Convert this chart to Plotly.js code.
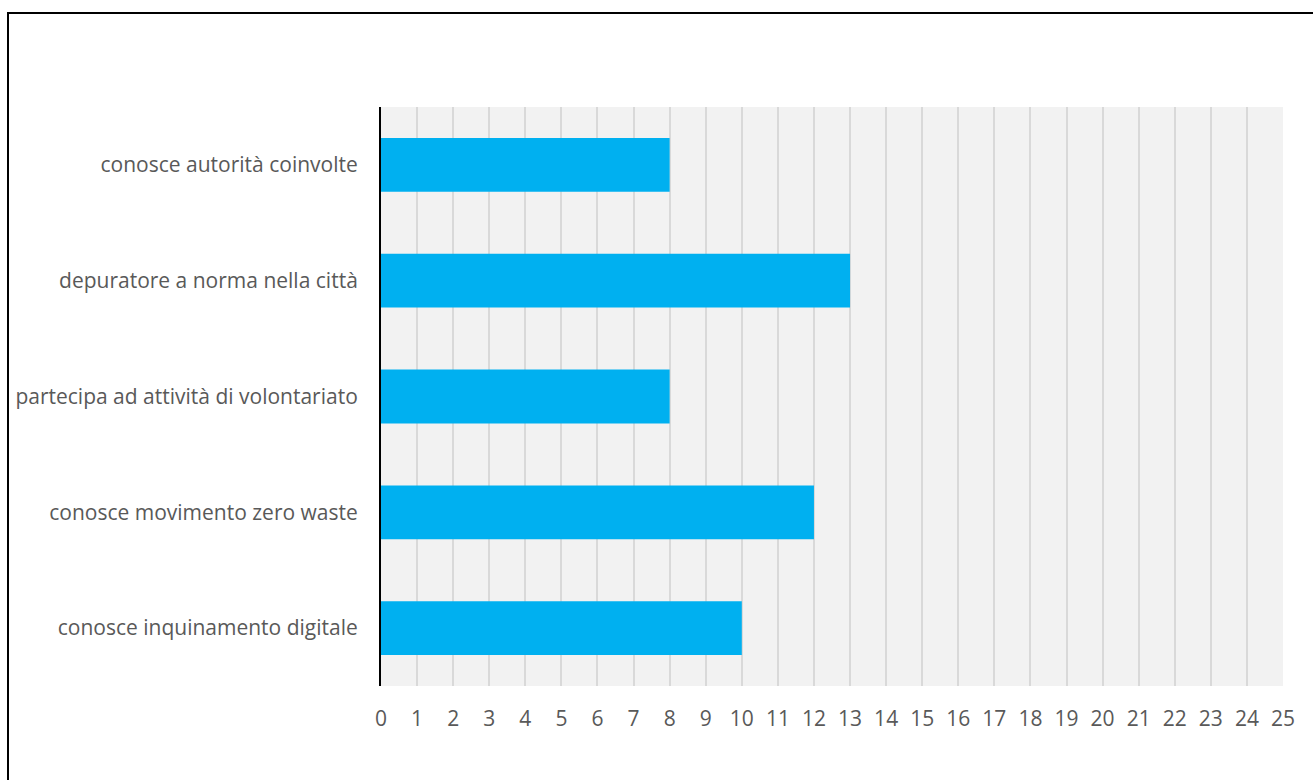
<!DOCTYPE html>
<html>
<head>
<meta charset="utf-8">
<script src="https://cdn.plot.ly/plotly-3.0.1.min.js"></script>
<style>html,body{margin:0;padding:0;background:#fff;}#chart{width:1313px;height:780px;}</style>
</head>
<body>
<div id="chart"></div>
<script>
const categories = [
  "conosce autorità coinvolte",
  "depuratore a norma nella città",
  "partecipa ad attività di volontariato",
  "conosce movimento zero waste",
  "conosce inquinamento digitale"
];
const values = [8, 13, 8, 12, 10];
const xTicks = Array.from({length: 26}, (_, i) => i);

const L = 381, R = 30, T = 107, B = 94, W = 1313, H = 780;
const pw = W - L - R, ph = H - T - B;
const px = v => (v - L) / pw;
const py = v => 1 - (v - T) / ph;

Plotly.newPlot('chart', [{
  type: 'bar',
  orientation: 'h',
  y: categories,
  x: values,
  marker: {color: '#00B0F0'},
  hoverinfo: 'x+y'
}], {
  width: W, height: H,
  margin: {l: L, r: R, t: T, b: B, pad: 0},
  paper_bgcolor: '#ffffff',
  plot_bgcolor: '#F2F2F2',
  bargap: 0.535,
  showlegend: false,
  font: {family: '"Open Sans", sans-serif', size: 21, color: '#595959'},
  xaxis: {
    range: [0, 25],
    tickvals: xTicks,
    ticktext: xTicks.map(String),
    showgrid: true,
    gridcolor: '#D9D9D9',
    gridwidth: 2,
    zeroline: false,
    showline: false,
    ticks: '',
    ticklabelstandoff: 18,
    tickfont: {size: 21, color: '#595959'},
    fixedrange: true
  },
  yaxis: {
    autorange: 'reversed',
    showgrid: false,
    zeroline: false,
    showline: true,
    linecolor: '#000000',
    linewidth: 2,
    ticks: '',
    ticklabelstandoff: 17,
    tickfont: {size: 21, color: '#595959'},
    fixedrange: true
  },
  shapes: [{
    type: 'path', xref: 'paper', yref: 'paper',
    path: `M ${px(8)} ${py(H + 10)} L ${px(8)} ${py(13)} L ${px(W + 10)} ${py(13)}`,
    line: {color: '#000000', width: 2}
  }]
}, {displayModeBar: false, staticPlot: true});
</script>
</body>
</html>
